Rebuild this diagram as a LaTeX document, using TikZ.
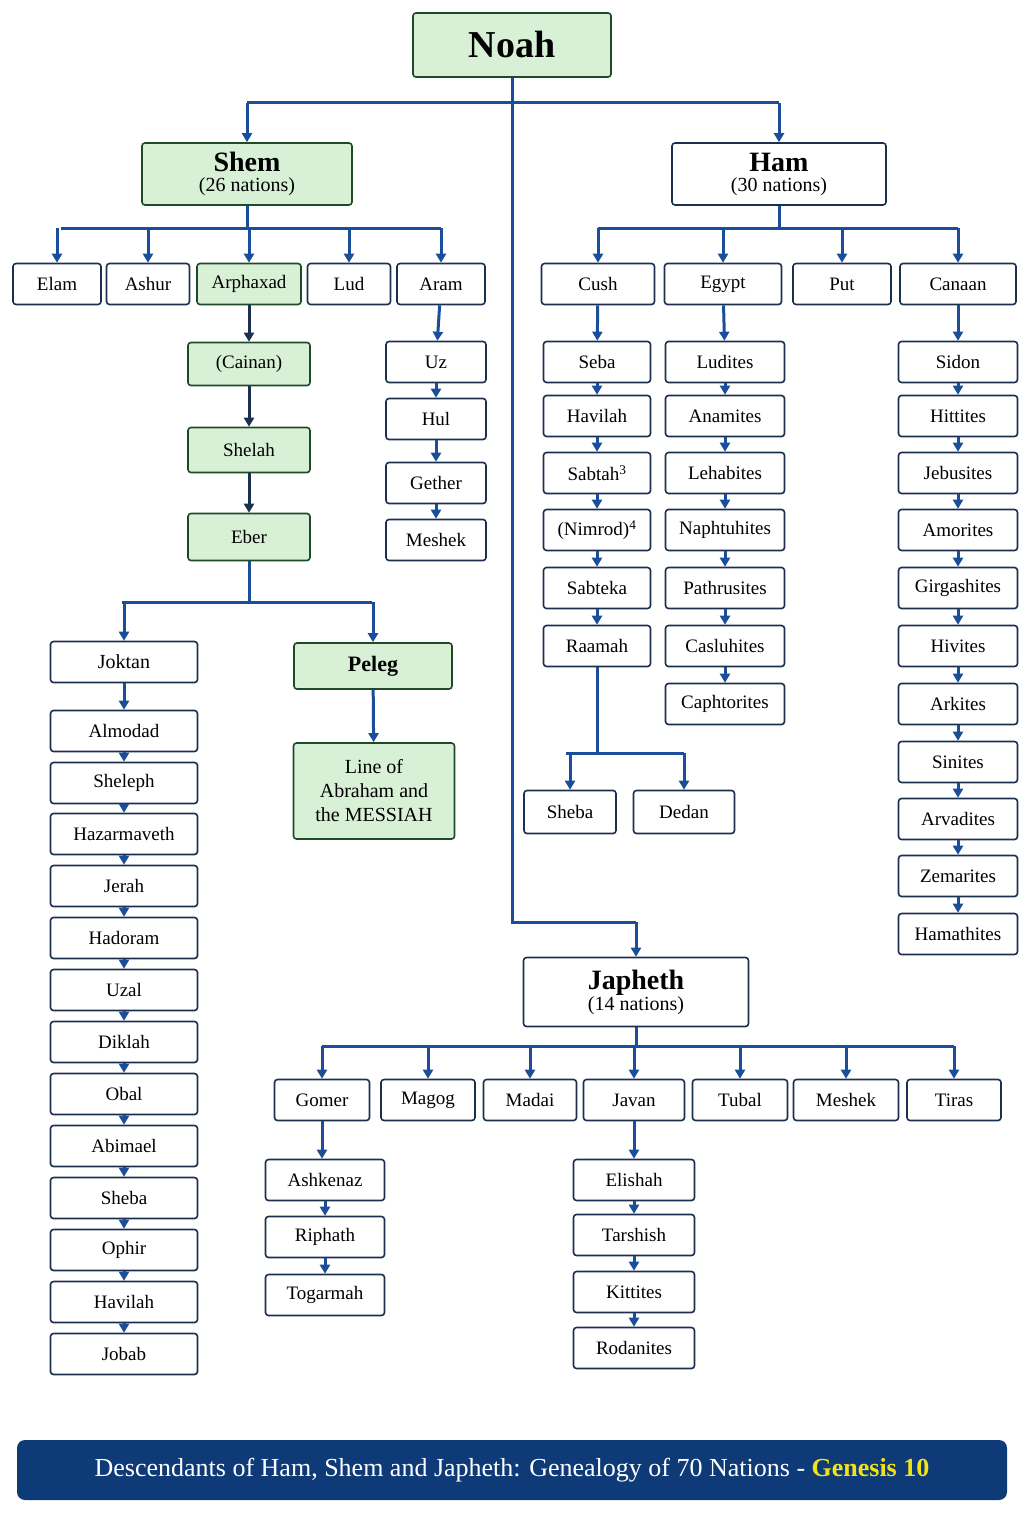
\documentclass[tikz,border=0pt]{standalone}
\usepackage{fontspec}
\setmainfont{Liberation Serif}
\usetikzlibrary{arrows.meta}
\definecolor{navy}{HTML}{1B2F4E}
\definecolor{lblue}{HTML}{1A4E9A}
\definecolor{gfill}{HTML}{D8F0D6}
\definecolor{gline}{HTML}{1F4A28}
\definecolor{foot}{HTML}{0E3A78}
\definecolor{gold}{HTML}{F2E21A}
\begin{document}
\begin{tikzpicture}[x=1pt,y=-1pt,
  box/.style={draw=navy,fill=white,line width=1.6pt,rounded corners=3pt,minimum height=41pt,inner sep=0pt,font=\fontsize{19}{22}\selectfont},
  gbox/.style={box,draw=gline,fill=gfill},
  ln/.style={draw=lblue,line width=3pt},
  arr/.style={ln,-{Triangle[length=9pt,width=10pt]}},
  darr/.style={draw=navy,line width=3pt,-{Triangle[length=9pt,width=10pt]}}]
\useasboundingbox (0,0) rectangle (1024,1536);
% top
\node[gbox,minimum width=198pt,minimum height=64pt,font=\fontsize{38}{40}\selectfont\bfseries] (noah) at (512,45) {Noah};
\node[gbox,minimum width=210pt,minimum height=62pt,align=center] (shem) at (247,174) {{\fontsize{28}{30}\selectfont\bfseries Shem}\\[-2pt]{\fontsize{20}{22}\selectfont(26 nations)}};
\node[box,minimum width=214pt,minimum height=62pt,align=center] (ham) at (779,174) {{\fontsize{28}{30}\selectfont\bfseries Ham}\\[-2pt]{\fontsize{20}{22}\selectfont(30 nations)}};
\node[box,minimum width=225pt,minimum height=69pt,align=center] (japheth) at (636,992) {{\fontsize{28}{30}\selectfont\bfseries Japheth}\\[-1pt]{\fontsize{20}{22}\selectfont(14 nations)}};
\coordinate (n1) at (247,103); \coordinate (n2) at (779,103); \coordinate (n3) at (512,922); \coordinate (n4) at (636,922);
\draw[ln] (noah.south) -- (512,103);
\draw[ln] (n1) -- (n2);
\draw[ln] (512,103) -- (n3) -- (n4);
\draw[arr] (n1) -- (shem.north);
\draw[arr] (n2) -- (ham.north);
\draw[arr] (n4) -- (japheth.north);
% Shem children
\node[box,minimum width=88pt] (elam) at (57,284) {Elam};
\node[box,minimum width=83pt] (ashur) at (148,284) {Ashur};
\node[gbox,minimum width=104pt] (arph) at (249,284) {Arphaxad};
\node[box,minimum width=83pt] (lud) at (349,284) {Lud};
\node[box,minimum width=88pt] (aram) at (441,284) {Aram};
\coordinate (sb) at (0,228);
\draw[ln] (shem.south) -- (247,228);
\draw[ln] (61,228) -- (441,228);
\foreach \c in {elam,ashur,arph,lud,aram} \draw[arr] (\c.north |- sb) -- (\c.north);
\node[gbox,minimum width=122pt,minimum height=43pt] (cainan) at (249,364) {(Cainan)};
\node[gbox,minimum width=122pt,minimum height=45pt] (shelah) at (249,450) {Shelah};
\node[gbox,minimum width=122pt,minimum height=47pt] (eber) at (249,537) {Eber};
\draw[darr] (arph) -- (cainan); \draw[darr] (cainan) -- (shelah); \draw[darr] (shelah) -- (eber);
% Aram chain
\foreach \n/\t/\y in {uz/Uz/362,hul/Hul/419,gether/Gether/483,meshekA/Meshek/540}
  \node[box,minimum width=100pt] (\n) at (436,\y) {\t};
\foreach \a/\b in {aram/uz,uz/hul,hul/gether,gether/meshekA} \draw[arr] (\a) -- (\b);
% Eber split
\coordinate (eb) at (0,602);
\node[box,minimum width=147pt] (joktan) at (124,662) {\fontsize{20}{22}\selectfont Joktan};
\node[gbox,minimum width=158pt,minimum height=46pt,font=\fontsize{22}{24}\selectfont\bfseries] (peleg) at (373,666) {Peleg};
\node[gbox,minimum width=161pt,minimum height=96pt,align=center,font=\fontsize{20}{24}\selectfont] (line) at (374,791) {Line of\\Abraham and\\the MESSIAH};
\draw[ln] (eber.south) -- (249,602);
\draw[ln] (122,602) -- (372,602);
\draw[arr] (joktan.north |- eb) -- (joktan.north);
\draw[arr] (peleg.north |- eb) -- (peleg.north);
\draw[arr] (peleg) -- (line);
% Joktan chain
\foreach \n/\t/\y in {j1/Almodad/731,j2/Sheleph/783,j3/Hazarmaveth/834,j4/Jerah/886,j5/Hadoram/938,j6/Uzal/990,j7/Diklah/1042,j8/Obal/1094,j9/Abimael/1146,j10/Sheba/1198,j11/Ophir/1250,j12/Havilah/1302,j13/Jobab/1354}
  \node[box,minimum width=147pt] (\n) at (124,\y) {\t};
\foreach \a/\b in {joktan/j1,j1/j2,j2/j3,j3/j4,j4/j5,j5/j6,j6/j7,j7/j8,j8/j9,j9/j10,j10/j11,j11/j12,j12/j13} \draw[arr] (\a) -- (\b);
% Ham children
\node[box,minimum width=113pt] (cush) at (598,284) {Cush};
\node[box,minimum width=117pt] (egypt) at (723,284) {Egypt};
\node[box,minimum width=98pt] (put) at (842,284) {Put};
\node[box,minimum width=116pt] (canaan) at (958,284) {Canaan};
\coordinate (hb) at (0,228);
\draw[ln] (ham.south) -- (779,228);
\draw[ln] (598,228) -- (958,228);
\foreach \c in {cush,egypt,put,canaan} \draw[arr] (\c.north |- hb) -- (\c.north);
% Cush chain
\foreach \n/\t/\y in {c1/Seba/362,c2/Havilah/416,c3/Sabtah\textsuperscript{3}/473,c4/(Nimrod)\textsuperscript{4}/530,c5/Sabteka/588,c6/Raamah/646}
  \node[box,minimum width=107pt] (\n) at (597,\y) {\t};
\foreach \a/\b in {cush/c1,c1/c2,c2/c3,c3/c4,c4/c5,c5/c6} \draw[arr] (\a) -- (\b);
\node[box,minimum width=92pt,minimum height=43pt] (shebaC) at (570,812) {Sheba};
\node[box,minimum width=101pt,minimum height=43pt] (dedan) at (684,812) {Dedan};
\coordinate (rb) at (0,753);
\draw[ln] (c6.south) -- (597,753);
\draw[ln] (566,753) -- (684,753);
\draw[arr] (shebaC.north |- rb) -- (shebaC.north);
\draw[arr] (dedan.north |- rb) -- (dedan.north);
% Egypt chain
\foreach \n/\t/\y in {e1/Ludites/362,e2/Anamites/416,e3/Lehabites/473,e4/Naphtuhites/530,e5/Pathrusites/588,e6/Casluhites/646,e7/Caphtorites/704}
  \node[box,minimum width=119pt] (\n) at (725,\y) {\t};
\foreach \a/\b in {egypt/e1,e1/e2,e2/e3,e3/e4,e4/e5,e5/e6,e6/e7} \draw[arr] (\a) -- (\b);
% Canaan chain
\foreach \n/\t/\y in {k1/Sidon/362,k2/Hittites/416,k3/Jebusites/473,k4/Amorites/530,k5/Girgashites/588,k6/Hivites/646,k7/Arkites/704,k8/Sinites/762,k9/Arvadites/819,k10/Zemarites/876,k11/Hamathites/934}
  \node[box,minimum width=119pt] (\n) at (958,\y) {\t};
\foreach \a/\b in {canaan/k1,k1/k2,k2/k3,k3/k4,k4/k5,k5/k6,k6/k7,k7/k8,k8/k9,k9/k10,k10/k11} \draw[arr] (\a) -- (\b);
% Japheth children
\node[box,minimum width=95pt] (gomer) at (322,1100) {Gomer};
\node[box,minimum width=94pt] (magog) at (428,1100) {Magog};
\node[box,minimum width=93pt] (madai) at (530,1100) {Madai};
\node[box,minimum width=101pt] (javan) at (634,1100) {Javan};
\node[box,minimum width=95pt] (tubal) at (740,1100) {Tubal};
\node[box,minimum width=105pt] (meshekJ) at (846,1100) {Meshek};
\node[box,minimum width=94pt] (tiras) at (954,1100) {Tiras};
\coordinate (jb) at (0,1046);
\draw[ln] (japheth.south) -- (636,1046);
\draw[ln] (322,1046) -- (954,1046);
\foreach \c in {gomer,magog,madai,javan,tubal,meshekJ,tiras} \draw[arr] (\c.north |- jb) -- (\c.north);
\foreach \n/\t/\y in {g1/Ashkenaz/1180,g2/Riphath/1237,g3/Togarmah/1295}
  \node[box,minimum width=119pt] (\n) at (325,\y) {\t};
\draw[arr] (gomer.south) -- (gomer.south |- g1.north);
\draw[arr] (g1) -- (g2); \draw[arr] (g2) -- (g3);
\foreach \n/\t/\y in {v1/Elishah/1180,v2/Tarshish/1235,v3/Kittites/1292,v4/Rodanites/1348}
  \node[box,minimum width=121pt] (\n) at (634,\y) {\t};
\foreach \a/\b in {javan/v1,v1/v2,v2/v3,v3/v4} \draw[arr] (\a) -- (\b);
% footer
\node[fill=foot,rounded corners=8pt,minimum width=990pt,minimum height=60pt,text=white,font=\fontsize{26}{28}\selectfont] (footer) at (512,1470) {Descendants of Ham, Shem and Japheth: Genealogy of 70 Nations - \textcolor{gold}{\bfseries Genesis 10}};
\end{tikzpicture}
\end{document}
